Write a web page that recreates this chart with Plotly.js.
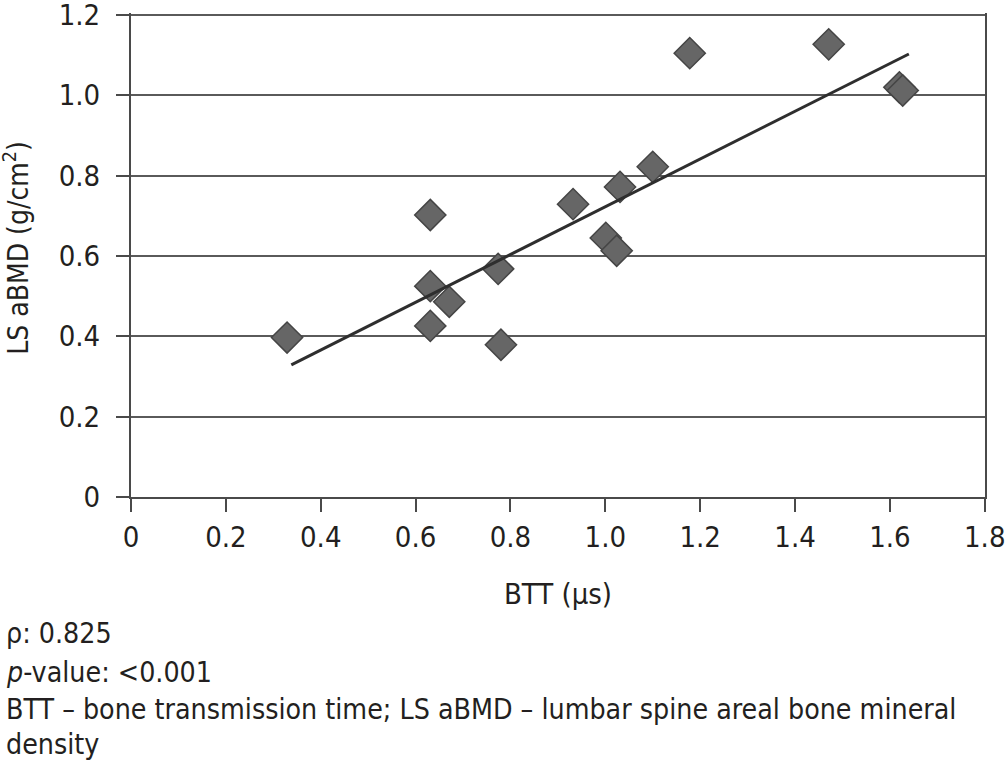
<!DOCTYPE html>
<html>
<head>
<meta charset="utf-8">
<script src="https://cdn.plot.ly/plotly-3.0.1.min.js"></script>
<style>
html,body{margin:0;padding:0;background:#fff;}
#chart{width:1006px;height:771px;}
</style>
</head>
<body>
<div id="chart"></div>
<script>
// Data
const bttValues = [0.329, 0.631, 0.631, 0.631, 0.671, 0.774, 0.780, 0.932, 1.001, 1.024, 1.031, 1.100, 1.178, 1.471, 1.620, 1.627];
const bmdValues = [0.397, 0.702, 0.525, 0.426, 0.486, 0.568, 0.379, 0.729, 0.645, 0.613, 0.772, 0.822, 1.105, 1.127, 1.020, 1.012];
const trendX = [0.338, 1.640];
const trendY = [0.329, 1.103];
const xTickVals = [0, 0.2, 0.4, 0.6, 0.8, 1.0, 1.2, 1.4, 1.6, 1.8];
const xTickText = ["0", "0.2", "0.4", "0.6", "0.8", "1.0", "1.2", "1.4", "1.6", "1.8"];
const yTickVals = [0, 0.2, 0.4, 0.6, 0.8, 1.0, 1.2];
const yTickText = ["0", "0.2", "0.4", "0.6", "0.8", "1.0", "1.2"];
const yTitle = 'LS aBMD (g/cm<sup>2</sup>)';
const xTitle = 'BTT (μs)';
const noteLines = [
  "ρ: 0.825",
  "<i>p</i>-value: &lt;0.001",
  "BTT – bone transmission time; LS aBMD – lumbar spine areal bone mineral",
  "density"
];
const noteY = [-0.283, -0.362, -0.439, -0.511];

const FONT = '"DejaVu Sans Condensed", "Liberation Sans", sans-serif';
const TXT = '#231f20';

const traces = [
  {
    type: 'scatter', mode: 'markers',
    x: bttValues, y: bmdValues,
    marker: {symbol: 'diamond', size: 24, color: '#666666', line: {color: '#454545', width: 1.5}},
    hoverinfo: 'skip', cliponaxis: false
  },
  {
    type: 'scatter', mode: 'lines',
    x: trendX, y: trendY,
    line: {color: '#2e2e2e', width: 3},
    hoverinfo: 'skip'
  }
];

const annotations = noteLines.map((t, i) => ({
  text: t, xref: 'paper', yref: 'paper',
  x: -0.149, y: noteY[i], xanchor: 'left', yanchor: 'middle',
  showarrow: false, align: 'left',
  font: {family: FONT, size: 28.3, color: TXT}
}));
annotations.push({
  text: yTitle, xref: 'paper', yref: 'paper',
  x: -0.134, y: 0.514, xanchor: 'center', yanchor: 'middle',
  textangle: -90, showarrow: false,
  font: {family: FONT, size: 28, color: TXT}
});

const layout = {
  width: 1006, height: 771,
  paper_bgcolor: '#ffffff', plot_bgcolor: '#ffffff',
  margin: {l: 130.5, r: 20.5, t: 12.7, b: 273.7, pad: 0},
  showlegend: false,
  font: {family: FONT, size: 29, color: TXT},
  xaxis: {
    range: [0, 1.8005], autorange: false, fixedrange: true,
    tickmode: 'array', tickvals: xTickVals, ticktext: xTickText,
    showgrid: false, zeroline: false,
    showline: true, linecolor: '#4a4a4a', linewidth: 2,
    ticks: 'outside', ticklen: 13, tickwidth: 2, tickcolor: '#4a4a4a',
    ticklabeloverflow: 'allow',
    tickfont: {family: FONT, size: 29, color: TXT},
    title: {text: xTitle, font: {family: FONT, size: 29, color: TXT}, standoff: 31},
    automargin: false
  },
  yaxis: {
    range: [0, 1.205], autorange: false, fixedrange: true,
    tickmode: 'array', tickvals: yTickVals, ticktext: yTickText,
    showgrid: true, gridcolor: '#5a5a5a', gridwidth: 2,
    zeroline: false,
    showline: true, linecolor: '#4a4a4a', linewidth: 2, mirror: true,
    ticks: 'outside', ticklen: 13, tickwidth: 2, tickcolor: '#4a4a4a',
    ticklabelstandoff: 10,
    ticklabeloverflow: 'allow',
    tickfont: {family: FONT, size: 29, color: TXT},
    automargin: false
  },
  annotations: annotations
};

Plotly.newPlot('chart', traces, layout, {staticPlot: true, displayModeBar: false});
</script>
</body>
</html>
